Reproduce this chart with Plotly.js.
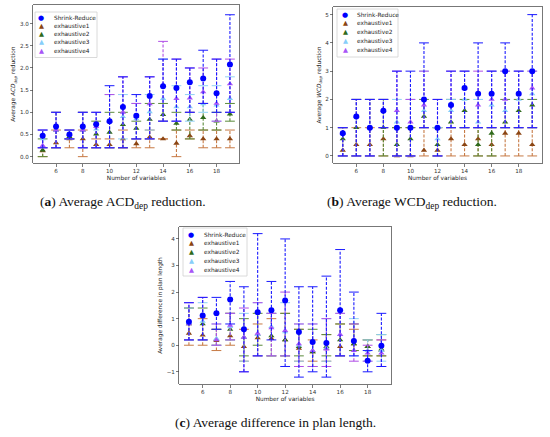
<!DOCTYPE html>
<html><head><meta charset="utf-8">
<script src="https://cdn.plot.ly/plotly-3.0.1.min.js"></script>
<style>html,body{margin:0;padding:0;background:#fff}#chart{width:550px;height:437px}</style>
</head><body><div id="chart"></div>
<script>
// ---------- data ----------
const numVariables = [5,6,7,8,9,10,11,12,13,14,15,16,17,18,19];
const seriesNames = ['Shrink-Reduce','exhaustive1','exhaustive2','exhaustive3','exhaustive4'];
const xTickVals = [6,8,10,12,14,16,18];
const yTickValsA = [0,0.5,1,1.5,2,2.5,3];
const yTickValsB = [0,1,2,3,4,5];
const yTickValsC = [-1,0,1,2,3,4];

// (a) Average ACD_dep reduction
const aSRMean = [0.47,0.68,0.50,0.68,0.73,0.80,1.12,0.92,1.37,1.59,1.55,1.68,1.76,1.43,2.08];
const aSRLow  = [0.2,0.2,0.4,0.2,0.2,0.2,0.2,0.4,0.4,0.8,0.8,1.0,1.2,1.0,1.0];
const aSRHigh = [0.6,1.0,0.6,1.0,1.0,1.6,1.8,1.4,1.8,2.2,2.2,2.0,2.4,2.2,3.2];
const aE1Mean = [0.13,0.31,0.40,0.40,0.27,0.27,0.40,0.29,0.44,0.40,0.30,0.47,0.40,0.40,0.40];
const aE1Low  = [0.0,0.2,0.2,0.0,0.2,0.2,0.2,0.2,0.2,0.4,0.0,0.4,0.2,0.2,0.2];
const aE1High = [0.2,0.6,0.4,0.6,0.4,0.4,0.6,0.4,0.6,0.4,0.6,0.6,0.6,0.6,0.6];
const aE2Mean = [0.15,0.60,0.45,0.60,0.51,0.55,0.72,0.64,0.84,0.95,0.75,0.84,0.88,0.80,0.96];
const aE2Low  = [0.0,0.2,0.4,0.2,0.2,0.2,0.2,0.4,0.4,0.8,0.6,0.4,0.6,0.6,0.8];
const aE2High = [0.4,1.0,0.6,1.0,0.8,1.0,1.0,0.8,1.2,1.2,1.0,1.0,1.2,1.0,1.2];
const aE3Mean = [0.40,0.60,0.50,0.60,0.62,0.80,0.90,0.85,1.01,1.31,1.12,1.12,1.19,1.16,1.31];
const aE3Low  = [0.2,0.2,0.4,0.2,0.2,0.2,0.4,0.4,0.6,0.8,0.8,0.8,1.0,0.8,1.0];
const aE3High = [0.6,1.0,0.6,1.0,1.0,1.4,1.4,1.2,1.4,2.2,1.6,1.4,1.6,1.6,1.8];
const aE4Mean = [0.25,0.60,0.50,0.60,0.68,0.80,1.00,0.90,1.19,1.60,1.31,1.32,1.46,1.20,1.64];
const aE4Low  = [0.2,0.2,0.4,0.2,0.2,0.2,0.2,0.4,0.4,0.8,0.8,1.0,1.2,0.8,1.0];
const aE4High = [0.6,1.0,0.6,1.0,1.0,1.4,1.8,1.2,1.8,2.6,2.2,2.0,2.0,2.2,2.2];

// (b) Average WCD_dep reduction
const bSRMean = [0.8,1.4,1.0,1.6,1.0,1.0,2.0,1.0,1.8,2.4,2.2,2.2,3.0,2.2,3.0];
const bSRLow  = [0,0,0,1,0,0,1,0,1,1,1,1,1,1,1];
const bSRHigh = [1,2,2,2,3,3,4,2,3,3,4,3,4,3,5];
const bE1Mean = [0.2,0.4,0.4,0.6,0.0,0.0,0.2,0.2,0.6,0.4,0.6,0.4,0.8,0.8,0.4];
const bE1Low  = [0,0,0,0,0,0,0,0,0,0,0,0,0,0,0];
const bE1High = [1,1,1,1,1,1,1,1,1,1,1,1,1,1,1];
const bE2Mean = [0.6,1.0,1.0,1.0,0.4,0.6,1.4,0.4,1.2,1.6,0.4,0.8,1.2,1.6,1.8];
const bE2Low  = [0,0,0,0,0,0,1,0,1,1,0,0,1,1,1];
const bE2High = [1,2,2,2,1,1,2,1,2,2,1,1,2,2,2];
const bE3Mean = [0.8,1.4,1.0,1.6,1.2,1.0,1.6,0.6,1.6,2.0,1.2,1.8,1.6,2.0,2.2];
const bE3Low  = [0,0,0,1,0,0,1,0,1,1,1,1,1,1,1];
const bE3High = [1,2,2,2,2,2,3,1,2,3,2,3,3,3,3];
const bE4Mean = [0.8,1.4,1.0,1.6,1.6,1.2,1.8,1.0,1.8,2.4,1.8,2.0,2.0,2.2,2.4];
const bE4Low  = [0,0,0,1,0,0,1,0,1,1,1,1,1,1,1];
const bE4High = [1,2,2,2,3,2,3,2,3,3,3,3,3,3,3];

// (c) Average difference in plan length
const cSRMean = [0.88,1.12,1.20,1.72,0.60,1.24,1.32,1.68,0.50,0.12,0.08,1.32,0.16,-0.58,-0.02];
const cSRLow  = [0.2,0.2,0.6,0.8,-1.0,-0.4,0.2,-0.8,-1.2,-1.0,-1.2,-0.4,-0.4,-1.0,-0.8];
const cSRHigh = [1.6,1.8,1.8,2.4,2.2,4.2,2.4,4.0,2.2,2.2,2.6,3.6,2.0,-0.2,1.2];
const cE1Mean = [0.45,0.38,0.17,0.35,-0.05,0.28,0.25,0.20,-0.12,-0.25,-0.12,-0.05,0.05,-0.05,-0.20];
const cE1Low  = [0.0,0.0,-0.2,0.0,-0.6,-0.4,-0.4,-0.4,-0.6,-0.6,-0.6,-0.4,-0.2,-0.4,-0.4];
const cE1High = [1.4,1.0,0.6,1.2,0.6,0.8,1.0,1.2,0.6,0.2,0.4,0.8,0.6,0.2,0.2];
const cE2Mean = [0.80,0.80,0.22,0.60,0.30,0.40,0.35,0.20,-0.05,-0.25,-0.05,0.20,0.05,-0.05,-0.15];
const cE2Low  = [0.2,0.2,0.0,0.2,-0.4,0.0,-0.4,-0.4,-0.4,-0.8,-0.4,-0.4,-0.2,-0.4,-0.4];
const cE2High = [1.4,1.4,0.6,1.2,1.0,1.2,1.2,1.2,0.6,0.6,0.4,0.8,0.8,0.2,0.4];
const cE3Mean = [0.85,0.90,0.25,0.70,0.30,0.40,0.70,0.50,0.00,-0.20,-0.10,0.40,0.20,-0.20,-0.20];
const cE3Low  = [0.2,0.2,0.0,0.2,-0.6,-0.4,-0.4,-0.4,-0.6,-0.8,-0.6,-0.4,-0.4,-0.6,-0.6];
const cE3High = [1.4,1.6,0.8,1.2,1.2,1.6,1.2,1.6,0.8,0.8,1.0,1.2,1.0,0.2,0.4];
const cE4Mean = [0.80,1.10,0.20,0.75,0.30,0.45,0.65,0.55,0.05,-0.20,-0.15,0.40,-0.20,-0.30,-0.30];
const cE4Low  = [0.2,0.2,0.0,0.2,-1.0,-0.4,-0.4,-0.4,-0.8,-0.8,-0.8,-0.4,-0.6,-0.6,-0.8];
const cE4High = [1.6,1.8,0.8,1.2,1.4,1.6,1.2,2.0,0.8,0.8,1.0,1.2,0.8,0.0,0.2];

// ---------- styles ----------
const styles = [
  {marker:'#0000ff', bar:'#1a1aff', symbol:'circle', size:6, glyph:'●'},
  {marker:'#8b4513', bar:'#c77a45', symbol:'triangle-up', size:5.5, glyph:'▲'},
  {marker:'#2f6a1c', bar:'#5a8a3a', symbol:'triangle-up', size:5.5, glyph:'▲'},
  {marker:'#87cefa', bar:'#8fd0f5', symbol:'triangle-up', size:5.5, glyph:'▲'},
  {marker:'#a855f7', bar:'#b04de6', symbol:'triangle-up', size:5.5, glyph:'▲'}
];

const panels = [
  {xa:'x',  ya:'y',  series:[[aSRMean,aSRLow,aSRHigh],[aE1Mean,aE1Low,aE1High],[aE2Mean,aE2Low,aE2High],[aE3Mean,aE3Low,aE3High],[aE4Mean,aE4Low,aE4High]]},
  {xa:'x2', ya:'y2', series:[[bSRMean,bSRLow,bSRHigh],[bE1Mean,bE1Low,bE1High],[bE2Mean,bE2Low,bE2High],[bE3Mean,bE3Low,bE3High],[bE4Mean,bE4Low,bE4High]]},
  {xa:'x3', ya:'y3', series:[[cSRMean,cSRLow,cSRHigh],[cE1Mean,cE1Low,cE1High],[cE2Mean,cE2Low,cE2High],[cE3Mean,cE3Low,cE3High],[cE4Mean,cE4Low,cE4High]]}
];

const traces = [];
const drawOrder = [1,2,3,4,0];
panels.forEach(p => {
  drawOrder.forEach(si => {
    const [mean, lo, hi] = p.series[si];
    const st = styles[si];
    const segX = [], segY = [];
    numVariables.forEach((x,i) => { segX.push(x,x,null); segY.push(lo[i],hi[i],null); });
    traces.push({type:'scatter', mode:'lines', x:segX, y:segY, xaxis:p.xa, yaxis:p.ya,
      line:{color:st.bar, width:1.1, dash:'3px,1.6px'}, hoverinfo:'skip', showlegend:false});
    traces.push({type:'scatter', mode:'markers', x:numVariables.concat(numVariables), y:lo.concat(hi),
      xaxis:p.xa, yaxis:p.ya, marker:{symbol:'line-ew', size:7, line:{color:st.bar, width:1.0}},
      hoverinfo:'skip', showlegend:false});
    traces.push({type:'scatter', mode:'markers', x:numVariables, y:mean, xaxis:p.xa, yaxis:p.ya,
      name:seriesNames[si], marker:{symbol:st.symbol, size:st.size, color:st.marker}, showlegend:false});
  });
});

// ---------- layout ----------
const W = 550, H = 437;
const px = v => v / W, py = v => 1 - v / H;
const tickFont = {family:'DejaVu Sans', size:5.6, color:'#333'};
const titleFont = {family:'DejaVu Sans', size:5.8, color:'#222'};

function xAxis(domain, anchor){
  return {domain, anchor, range:[4.3,19.7], tickvals:xTickVals, ticks:'outside', ticklen:2.5,
    tickwidth:0.7, tickcolor:'#444', showline:true, mirror:true, linecolor:'#555', linewidth:0.8,
    showgrid:false, zeroline:false, tickfont:tickFont,
    title:{text:'Number of variables', font:titleFont, standoff:2}};
}
function yAxis(domain, anchor, range, tickvals, fmt, title){
  return {domain, anchor, range, tickvals, tickformat:fmt, ticks:'outside', ticklen:2.5,
    tickwidth:0.7, tickcolor:'#444', showline:true, mirror:true, linecolor:'#555', linewidth:0.8,
    showgrid:false, zeroline:false, tickfont:tickFont,
    title:{text:title, font:titleFont, standoff:3}};
}

const annotations = [];
const shapes = [];
// custom compact legends (one per panel)
const legendBoxes = [
  {box:[35,12,97,57.5], iconX:41, textX:52, rows:[17.7,26,34.3,42.5,50.5]},
  {box:[337,9,398,57], iconX:345, textX:355, rows:[15,23.5,32.2,41,49.5]},
  {box:[183,228,247,276], iconX:191, textX:202, rows:[234.5,243.2,252,260.8,269.5]}
];
legendBoxes.forEach(lb => {
  shapes.push({type:'rect', xref:'paper', yref:'paper', x0:px(lb.box[0]), x1:px(lb.box[2]),
    y0:py(lb.box[3]), y1:py(lb.box[1]), line:{color:'#d0d0d0', width:0.8}, fillcolor:'rgba(255,255,255,0.85)', layer:'above'});
  seriesNames.forEach((nm, i) => {
    annotations.push({xref:'paper', yref:'paper', x:px(lb.iconX), y:py(lb.rows[i]), xanchor:'center', yanchor:'middle',
      text:styles[i].glyph, showarrow:false, font:{family:'DejaVu Sans', size:i===0?7:6.5, color:styles[i].marker}});
    annotations.push({xref:'paper', yref:'paper', x:px(lb.textX), y:py(lb.rows[i]), xanchor:'left', yanchor:'middle',
      text:nm, showarrow:false, font:{family:'DejaVu Sans', size:5.8, color:'#222'}});
  });
});
// captions
const captionFont = {family:'Liberation Serif', size:13.5, color:'#111'};
annotations.push({xref:'paper', yref:'paper', x:px(123), y:py(202), xanchor:'center', yanchor:'middle', showarrow:false,
  text:'(<b>a</b>) Average ACD<sub>dep</sub> reduction.', font:captionFont});
annotations.push({xref:'paper', yref:'paper', x:px(412), y:py(202), xanchor:'center', yanchor:'middle', showarrow:false,
  text:'(<b>b</b>) Average WCD<sub>dep</sub> reduction.', font:captionFont});
annotations.push({xref:'paper', yref:'paper', x:px(275), y:py(422), xanchor:'center', yanchor:'middle', showarrow:false,
  text:'(<b>c</b>) Average difference in plan length.', font:captionFont});

const layout = {
  width:W, height:H, margin:{l:0,r:0,t:0,b:0}, paper_bgcolor:'#fff', plot_bgcolor:'#fff',
  showlegend:false,
  xaxis:  xAxis([px(33.3), px(239.3)], 'y'),
  yaxis:  yAxis([py(163.3), py(5)], 'x', [-0.15,3.42], yTickValsA, '.1f', 'Average <i>ACD<sub>dep</sub></i> reduction'),
  xaxis2: xAxis([px(333.3), px(541.7)], 'y2'),
  yaxis2: yAxis([py(163.3), py(6.7)], 'x2', [-0.26,5.28], yTickValsB, 'd', 'Average <i>WCD<sub>dep</sub></i> reduction'),
  xaxis3: xAxis([px(179.3), px(391)], 'y3'),
  yaxis3: yAxis([py(384.3), py(226.7)], 'x3', [-1.47,4.46], yTickValsC, 'd', 'Average difference in plan length'),
  annotations, shapes
};
Plotly.newPlot('chart', traces, layout, {displayModeBar:false, staticPlot:true});
</script>
</body></html>
